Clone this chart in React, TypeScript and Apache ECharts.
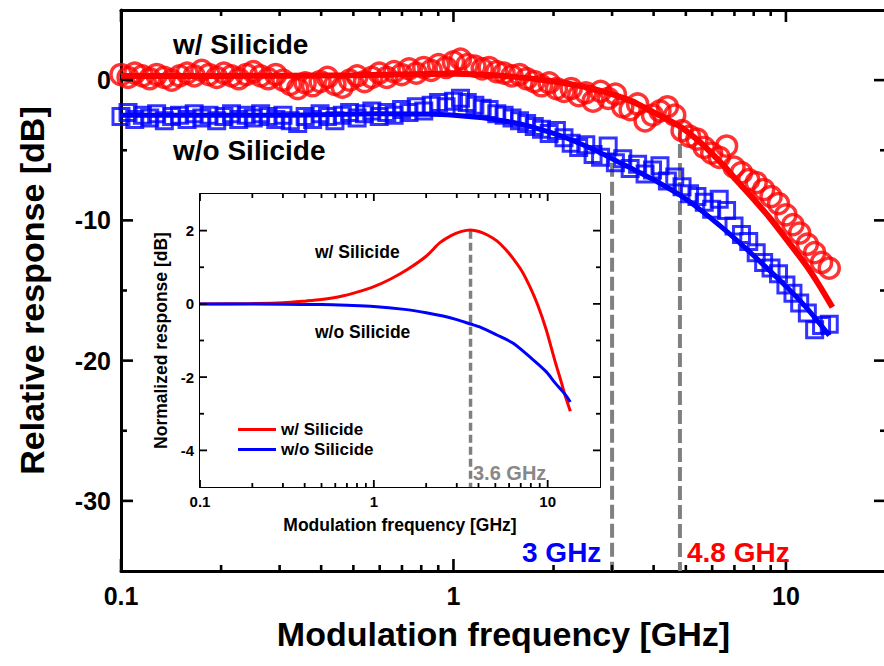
import React, { useEffect, useRef } from "react";
import * as echarts from "echarts";

const FONT = "'Liberation Sans', Arial, Helvetica, sans-serif";

// ---------- measured data (main plot) ----------
const FREQ_GHZ = [
  0.1, 0.105, 0.11, 0.116, 0.122, 0.128, 0.135, 0.142, 0.15, 0.158,
  0.166, 0.175, 0.184, 0.194, 0.204, 0.215, 0.226, 0.238, 0.25, 0.263,
  0.277, 0.292, 0.307, 0.323, 0.34, 0.358, 0.377, 0.397, 0.418, 0.44,
  0.463, 0.487, 0.513, 0.54, 0.568, 0.598, 0.63, 0.663, 0.698, 0.735,
  0.773, 0.814, 0.857, 0.902, 0.95, 1.0, 1.05, 1.1, 1.16, 1.22,
  1.28, 1.35, 1.42, 1.5, 1.58, 1.66, 1.75, 1.84, 1.94, 2.04,
  2.15, 2.26, 2.38, 2.5, 2.63, 2.77, 2.92, 3.07, 3.23, 3.4,
  3.58, 3.77, 3.97, 4.18, 4.4, 4.63, 4.87, 5.13, 5.4, 5.68,
  5.98, 6.3, 6.63, 6.98, 7.35, 7.73, 8.14, 8.57, 9.02, 9.5,
  10.0, 10.5, 11.0, 11.6, 12.2, 12.8, 13.5,
];

const RED_DB = [
  0.4, 0.2, 0.5, 0.3, 0.1, 0.4, 0.2, 0.0, 0.3, 0.5,
  0.3, 0.7, 0.4, 0.2, 0.5, 0.3, 0.1, 0.4, 0.6, 0.3,
  0.1, 0.4, 0.0, -0.3, -0.6, -0.2, -0.4, -0.1, 0.2, -0.3,
  -0.5, 0.0, 0.3, -0.1, 0.2, 0.5, 0.2, 0.6, 0.4, 0.8,
  0.5, 0.9, 0.7, 1.1, 0.9, 1.3, 1.5, 1.1, 1.0, 0.8,
  0.9, 0.6, 0.5, 0.3, 0.4, 0.1, -0.1, -0.4, -0.2, -0.6,
  -0.8, -0.6, -1.1, -0.9, -1.5, -0.8, -1.3, -1.0, -1.9, -2.1,
  -1.7, -2.9, -2.5, -2.2, -1.9, -2.5, -3.6, -4.0, -4.2, -4.8,
  -5.2, -5.5, -4.7, -6.2, -6.6, -7.1, -7.3, -7.8, -8.3, -8.8,
  -9.6, -10.3, -10.9, -11.7, -12.3, -13.0, -13.4,
];

const BLUE_DB = [
  -2.6, -2.3, -2.8, -2.5, -2.7, -2.4, -2.9, -2.6, -2.5, -2.8,
  -2.4, -2.7, -2.5, -2.9, -2.6, -2.4, -2.8, -2.5, -2.7, -2.4,
  -2.6, -2.8, -2.5, -2.9, -3.1, -2.6, -2.8, -2.4, -2.6, -2.9,
  -2.5, -2.3, -2.7, -2.4, -2.2, -2.6, -2.3, -2.5, -2.1, -2.3,
  -1.9, -2.2, -1.8, -1.6, -1.9, -1.5, -1.3, -1.6, -1.8, -2.0,
  -2.1, -2.4, -2.5, -2.7, -2.9, -3.1, -3.3, -3.5, -3.8, -3.6,
  -4.1, -4.5, -4.8, -4.6, -5.3, -5.5, -4.7, -5.9, -5.6, -6.3,
  -6.0, -6.7, -6.4, -6.1, -7.2, -6.9, -7.6, -8.1, -8.3, -8.7,
  -9.2, -8.5, -9.3, -10.4, -11.0, -11.5, -12.3, -13.0, -13.4, -13.8,
  -14.6, -15.2, -15.9, -16.6, -17.8, -17.5, -17.4,
];

// ---------- fitted curves (main plot) ----------
const RED_FIT_F = [0.1, 0.2, 0.5, 1.0, 1.5, 2.0, 2.5, 3.0, 3.5, 4.0, 4.8, 5.5, 6.5, 7.2, 8.0, 9.0, 10.0, 11.5, 12.5, 13.8];
const RED_FIT_DB = [0.3, 0.3, 0.35, 0.45, 0.25, -0.1, -0.5, -1.0, -1.6, -2.3, -3.3, -4.4, -6.1, -7.3, -8.5, -9.9, -11.3, -13.2, -14.5, -16.2];
const BLUE_FIT_F = [0.1, 0.3, 0.6, 1.0, 1.5, 2.0, 2.5, 3.0, 3.5, 4.0, 4.8, 5.5, 6.5, 7.5, 8.5, 10.0, 11.5, 13.5];
const BLUE_FIT_DB = [-2.5, -2.5, -2.4, -2.5, -3.0, -3.8, -4.7, -5.6, -6.4, -7.1, -8.2, -9.2, -10.6, -11.9, -13.1, -14.7, -16.2, -18.2];

// 3 dB bandwidth markers
const CUTOFF_F = [3, 4.8];
const CUTOFF_TOP_DB = [-5.9, -3.2];
const CUTOFF_LABELS = ["3 GHz", "4.8 GHz"];

// ---------- inset (normalized response) ----------
const INSET_RED_F = [0.1, 0.2, 0.3, 0.41, 0.5, 0.64, 0.8, 1.0, 1.25, 1.55, 2.0, 2.4, 2.8, 3.2, 3.6, 4.06, 4.5, 5.1, 5.7, 6.3, 7.1, 7.9, 8.8, 9.8, 11.0, 12.0, 12.5, 13.5];
const INSET_RED_DB = [0.0, 0.01, 0.03, 0.08, 0.12, 0.2, 0.32, 0.47, 0.68, 0.93, 1.3, 1.67, 1.87, 1.98, 2.02, 1.97, 1.88, 1.72, 1.5, 1.25, 0.9, 0.47, -0.05, -0.7, -1.55, -2.15, -2.45, -2.93];
const INSET_BLUE_F = [0.1, 0.3, 0.5, 0.7, 1.0, 1.5, 2.0, 2.5, 3.0, 3.6, 4.06, 5.1, 6.3, 7.9, 9.8, 11.0, 12.5, 13.5];
const INSET_BLUE_DB = [0.0, -0.01, -0.02, -0.04, -0.07, -0.15, -0.24, -0.33, -0.43, -0.55, -0.63, -0.85, -1.07, -1.45, -1.85, -2.15, -2.45, -2.68];
const PEAK_F = 3.6;
const PEAK_DB = 2.0;

// ---------- axis ranges & tick values ----------
const X_MIN = 0.1;
const X_MAX = 20;
const MAIN_Y_MIN = -35;
const MAIN_Y_MAX = 5;
const INSET_Y_MIN = -5;
const INSET_Y_MAX = 3;
const LOG_MAJOR = [0.1, 1, 10];
const LOG_MINOR = [0.2, 0.3, 0.4, 0.5, 0.6, 0.7, 0.8, 0.9, 2, 3, 4, 5, 6, 7, 8, 9];
const MAIN_Y_MAJOR = [-30, -20, -10, 0];
const MAIN_Y_MINOR = [-25, -15, -5];
const INSET_Y_MAJOR = [-4, -2, 0, 2];
const INSET_Y_MINOR = [-3, -1, 1];

const pairs = (xs: number[], ys: number[]) => xs.map((x, i) => [x, ys[i]]);

const logLabel = (v: number) => {
  const e = Math.log10(v);
  const r = Math.round(e);
  if (Math.abs(e - r) > 1e-6 || r > 1) return "";
  return r < 0 ? "0.1" : String(Math.pow(10, r));
};

const txt = (size: number, color = "#000") => ({
  fontFamily: FONT,
  fontWeight: "bold" as const,
  fontSize: size,
  color,
});

function xAxes(grid: number, lineW: number, label: any, name: any) {
  const base = {
    type: "log",
    logBase: 10,
    gridIndex: grid,
    min: X_MIN,
    max: X_MAX,
    splitLine: { show: false },
    axisTick: { show: false },
    axisLine: { show: true, onZero: false, lineStyle: { color: "#000", width: lineW } },
  };
  return [
    { ...base, position: "bottom", axisLabel: { show: true, formatter: logLabel, showMaxLabel: false, ...label }, ...name },
    { ...base, position: "top", axisLabel: { show: false } },
  ];
}

function yAxes(grid: number, min: number, max: number, major: number[], lineW: number, label: any, name: any) {
  const base = {
    type: "value",
    gridIndex: grid,
    min,
    max,
    splitLine: { show: false },
    axisTick: { show: false },
    axisLine: { show: true, onZero: false, lineStyle: { color: "#000", width: lineW } },
  };
  return [
    { ...base, position: "left", axisLabel: { show: true, customValues: major, ...label }, ...name },
    { ...base, position: "right", axisLabel: { show: false } },
  ];
}

// Tick marks drawn through the axes' own scales (api.coord), pointing inwards on all four sides
function tickSeries(
  xIdx: number, yIdx: number, yMin: number, yMax: number,
  yMajor: number[], yMinor: number[], majLen: number, minLen: number, width: number, z: number
) {
  const specs: { v: number[]; dx: number; dy: number }[] = [];
  const addX = (vals: number[], len: number) =>
    vals.forEach((f) => {
      specs.push({ v: [f, yMin], dx: 0, dy: -len });
      specs.push({ v: [f, yMax], dx: 0, dy: len });
    });
  const addY = (vals: number[], len: number) =>
    vals.forEach((d) => {
      specs.push({ v: [X_MIN, d], dx: len, dy: 0 });
      specs.push({ v: [X_MAX, d], dx: -len, dy: 0 });
    });
  addX(LOG_MAJOR, majLen);
  addX(LOG_MINOR, minLen);
  addY(yMajor, majLen);
  addY(yMinor, minLen);
  return {
    type: "custom",
    xAxisIndex: xIdx,
    yAxisIndex: yIdx,
    silent: true,
    clip: false,
    z,
    encode: { x: 0, y: 1 },
    data: specs.map((s) => s.v),
    renderItem: (params: any, api: any) => {
      const s = specs[params.dataIndex];
      const p = api.coord([api.value(0), api.value(1)]);
      return {
        type: "line",
        shape: { x1: p[0], y1: p[1], x2: p[0] + s.dx, y2: p[1] + s.dy },
        style: { stroke: "#000", lineWidth: width },
      };
    },
  };
}

export default function App() {
  const ref = useRef<HTMLDivElement>(null);

  useEffect(() => {
    if (!ref.current) return;
    const chart = echarts.init(ref.current, undefined, { renderer: "svg" });

    const mainX = xAxes(0, 3, { ...txt(25), margin: 12 }, {
      name: "Modulation frequency [GHz]",
      nameLocation: "middle",
      nameGap: 46,
      nameTextStyle: txt(34),
    });
    const mainY = yAxes(0, MAIN_Y_MIN, MAIN_Y_MAX, MAIN_Y_MAJOR, 3, { ...txt(25), margin: 10 }, {
      name: "Relative response [dB]",
      nameLocation: "middle",
      nameGap: 72,
      nameTextStyle: txt(34),
    });
    const insetX = xAxes(1, 2, { ...txt(15), margin: 7 }, {
      name: "Modulation frequency [GHz]",
      nameLocation: "middle",
      nameGap: 29,
      nameTextStyle: txt(17.5),
    });
    const insetY = yAxes(1, INSET_Y_MIN, INSET_Y_MAX, INSET_Y_MAJOR, 2, { ...txt(15), margin: 6 }, {
      name: "Normalized response [dB]",
      nameLocation: "middle",
      nameGap: 30,
      nameTextStyle: txt(17.5),
    });

    const IX = mainX.length; // inset x axis index
    const IY = mainY.length; // inset y axis index

    const mainDashed = CUTOFF_F.map((f, i) => ({
      type: "line",
      xAxisIndex: 0,
      yAxisIndex: 0,
      data: [[f, CUTOFF_TOP_DB[i]], [f, MAIN_Y_MIN]],
      showSymbol: false,
      silent: true,
      lineStyle: { color: "#808080", width: 4, type: [14, 5] },
      z: 1,
    }));

    chart.setOption({
      animation: false,
      backgroundColor: "#fff",
      grid: [
        { left: 121, top: 10, width: 765, height: 561, containLabel: false, outerBoundsMode: "none" },
        { left: 200, top: 194, width: 400, height: 293, show: true, backgroundColor: "#fff", borderWidth: 0, z: 5, outerBoundsMode: "none" },
      ],
      xAxis: [...mainX, ...insetX],
      yAxis: [...mainY, ...insetY],
      legend: {
        show: true,
        data: ["w/ Silicide", "w/o Silicide"],
        orient: "vertical",
        left: 233,
        top: 416,
        itemWidth: 38,
        itemHeight: 3,
        itemGap: 3,
        icon: "rect",
        selectedMode: false,
        textStyle: { ...txt(17) },
        z: 20,
      },
      series: [
        ...mainDashed,
        {
          name: "w/o Silicide (fit)",
          type: "line",
          xAxisIndex: 0,
          yAxisIndex: 0,
          data: pairs(BLUE_FIT_F, BLUE_FIT_DB),
          showSymbol: false,
          smooth: 0.3,
          lineStyle: { color: "#0000ff", width: 5 },
          z: 2,
        },
        {
          name: "w/ Silicide (fit)",
          type: "line",
          xAxisIndex: 0,
          yAxisIndex: 0,
          data: pairs(RED_FIT_F, RED_FIT_DB),
          showSymbol: false,
          smooth: 0.3,
          lineStyle: { color: "#ff0000", width: 6 },
          z: 2,
        },
        {
          name: "w/o Silicide (measured)",
          type: "scatter",
          xAxisIndex: 0,
          yAxisIndex: 0,
          data: pairs(FREQ_GHZ, BLUE_DB),
          symbol: "rect",
          symbolSize: 16,
          itemStyle: { color: "transparent", borderColor: "#0000ff", borderWidth: 3 },
          z: 3,
        },
        {
          name: "w/ Silicide (measured)",
          type: "scatter",
          xAxisIndex: 0,
          yAxisIndex: 0,
          data: pairs(FREQ_GHZ, RED_DB),
          symbol: "circle",
          symbolSize: 20,
          itemStyle: { color: "transparent", borderColor: "#ff0000", borderWidth: 3.5 },
          z: 3,
        },
        tickSeries(0, 0, MAIN_Y_MIN, MAIN_Y_MAX, MAIN_Y_MAJOR, MAIN_Y_MINOR, 12, 6, 2.6, 9),
        {
          type: "line",
          xAxisIndex: IX,
          yAxisIndex: IY,
          data: [[PEAK_F, PEAK_DB], [PEAK_F, INSET_Y_MIN]],
          showSymbol: false,
          silent: true,
          lineStyle: { color: "#808080", width: 3.5, type: [8, 4] },
          z: 6,
        },
        {
          name: "w/ Silicide",
          type: "line",
          xAxisIndex: IX,
          yAxisIndex: IY,
          data: pairs(INSET_RED_F, INSET_RED_DB),
          showSymbol: false,
          smooth: 0.3,
          color: "#ff0000",
          lineStyle: { color: "#ff0000", width: 3 },
          z: 7,
        },
        {
          name: "w/o Silicide",
          type: "line",
          xAxisIndex: IX,
          yAxisIndex: IY,
          data: pairs(INSET_BLUE_F, INSET_BLUE_DB),
          showSymbol: false,
          smooth: 0.3,
          color: "#0000ff",
          lineStyle: { color: "#0000ff", width: 3 },
          z: 7,
        },
        tickSeries(IX, IY, INSET_Y_MIN, INSET_Y_MAX, INSET_Y_MAJOR, INSET_Y_MINOR, 7, 4, 1.8, 9),
      ],
      graphic: [
        { type: "text", x: 173, y: 44, z: 30, style: { text: "w/ Silicide", fill: "#000", font: `bold 28px ${FONT}`, verticalAlign: "middle" } },
        { type: "text", x: 173, y: 150, z: 30, style: { text: "w/o Silicide", fill: "#000", font: `bold 28px ${FONT}`, verticalAlign: "middle" } },
        { type: "text", x: 522, y: 552, z: 30, style: { text: CUTOFF_LABELS[0], fill: "#0000ff", font: `bold 28px ${FONT}`, verticalAlign: "middle" } },
        { type: "text", x: 687, y: 552, z: 30, style: { text: CUTOFF_LABELS[1], fill: "#ff0000", font: `bold 28px ${FONT}`, verticalAlign: "middle" } },
        { type: "text", x: 315, y: 252, z: 30, style: { text: "w/ Silicide", fill: "#000", font: `bold 17.5px ${FONT}`, verticalAlign: "middle" } },
        { type: "text", x: 315, y: 332, z: 30, style: { text: "w/o Silicide", fill: "#000", font: `bold 17.5px ${FONT}`, verticalAlign: "middle" } },
        { type: "text", x: 473, y: 473, z: 30, style: { text: `${PEAK_F} GHz`, fill: "#888888", font: `bold 20px ${FONT}`, verticalAlign: "middle" } },
      ],
    });

    return () => chart.dispose();
  }, []);

  return <div ref={ref} style={{ position: "absolute", left: 0, top: 0, width: 884, height: 666 }} />;
}
